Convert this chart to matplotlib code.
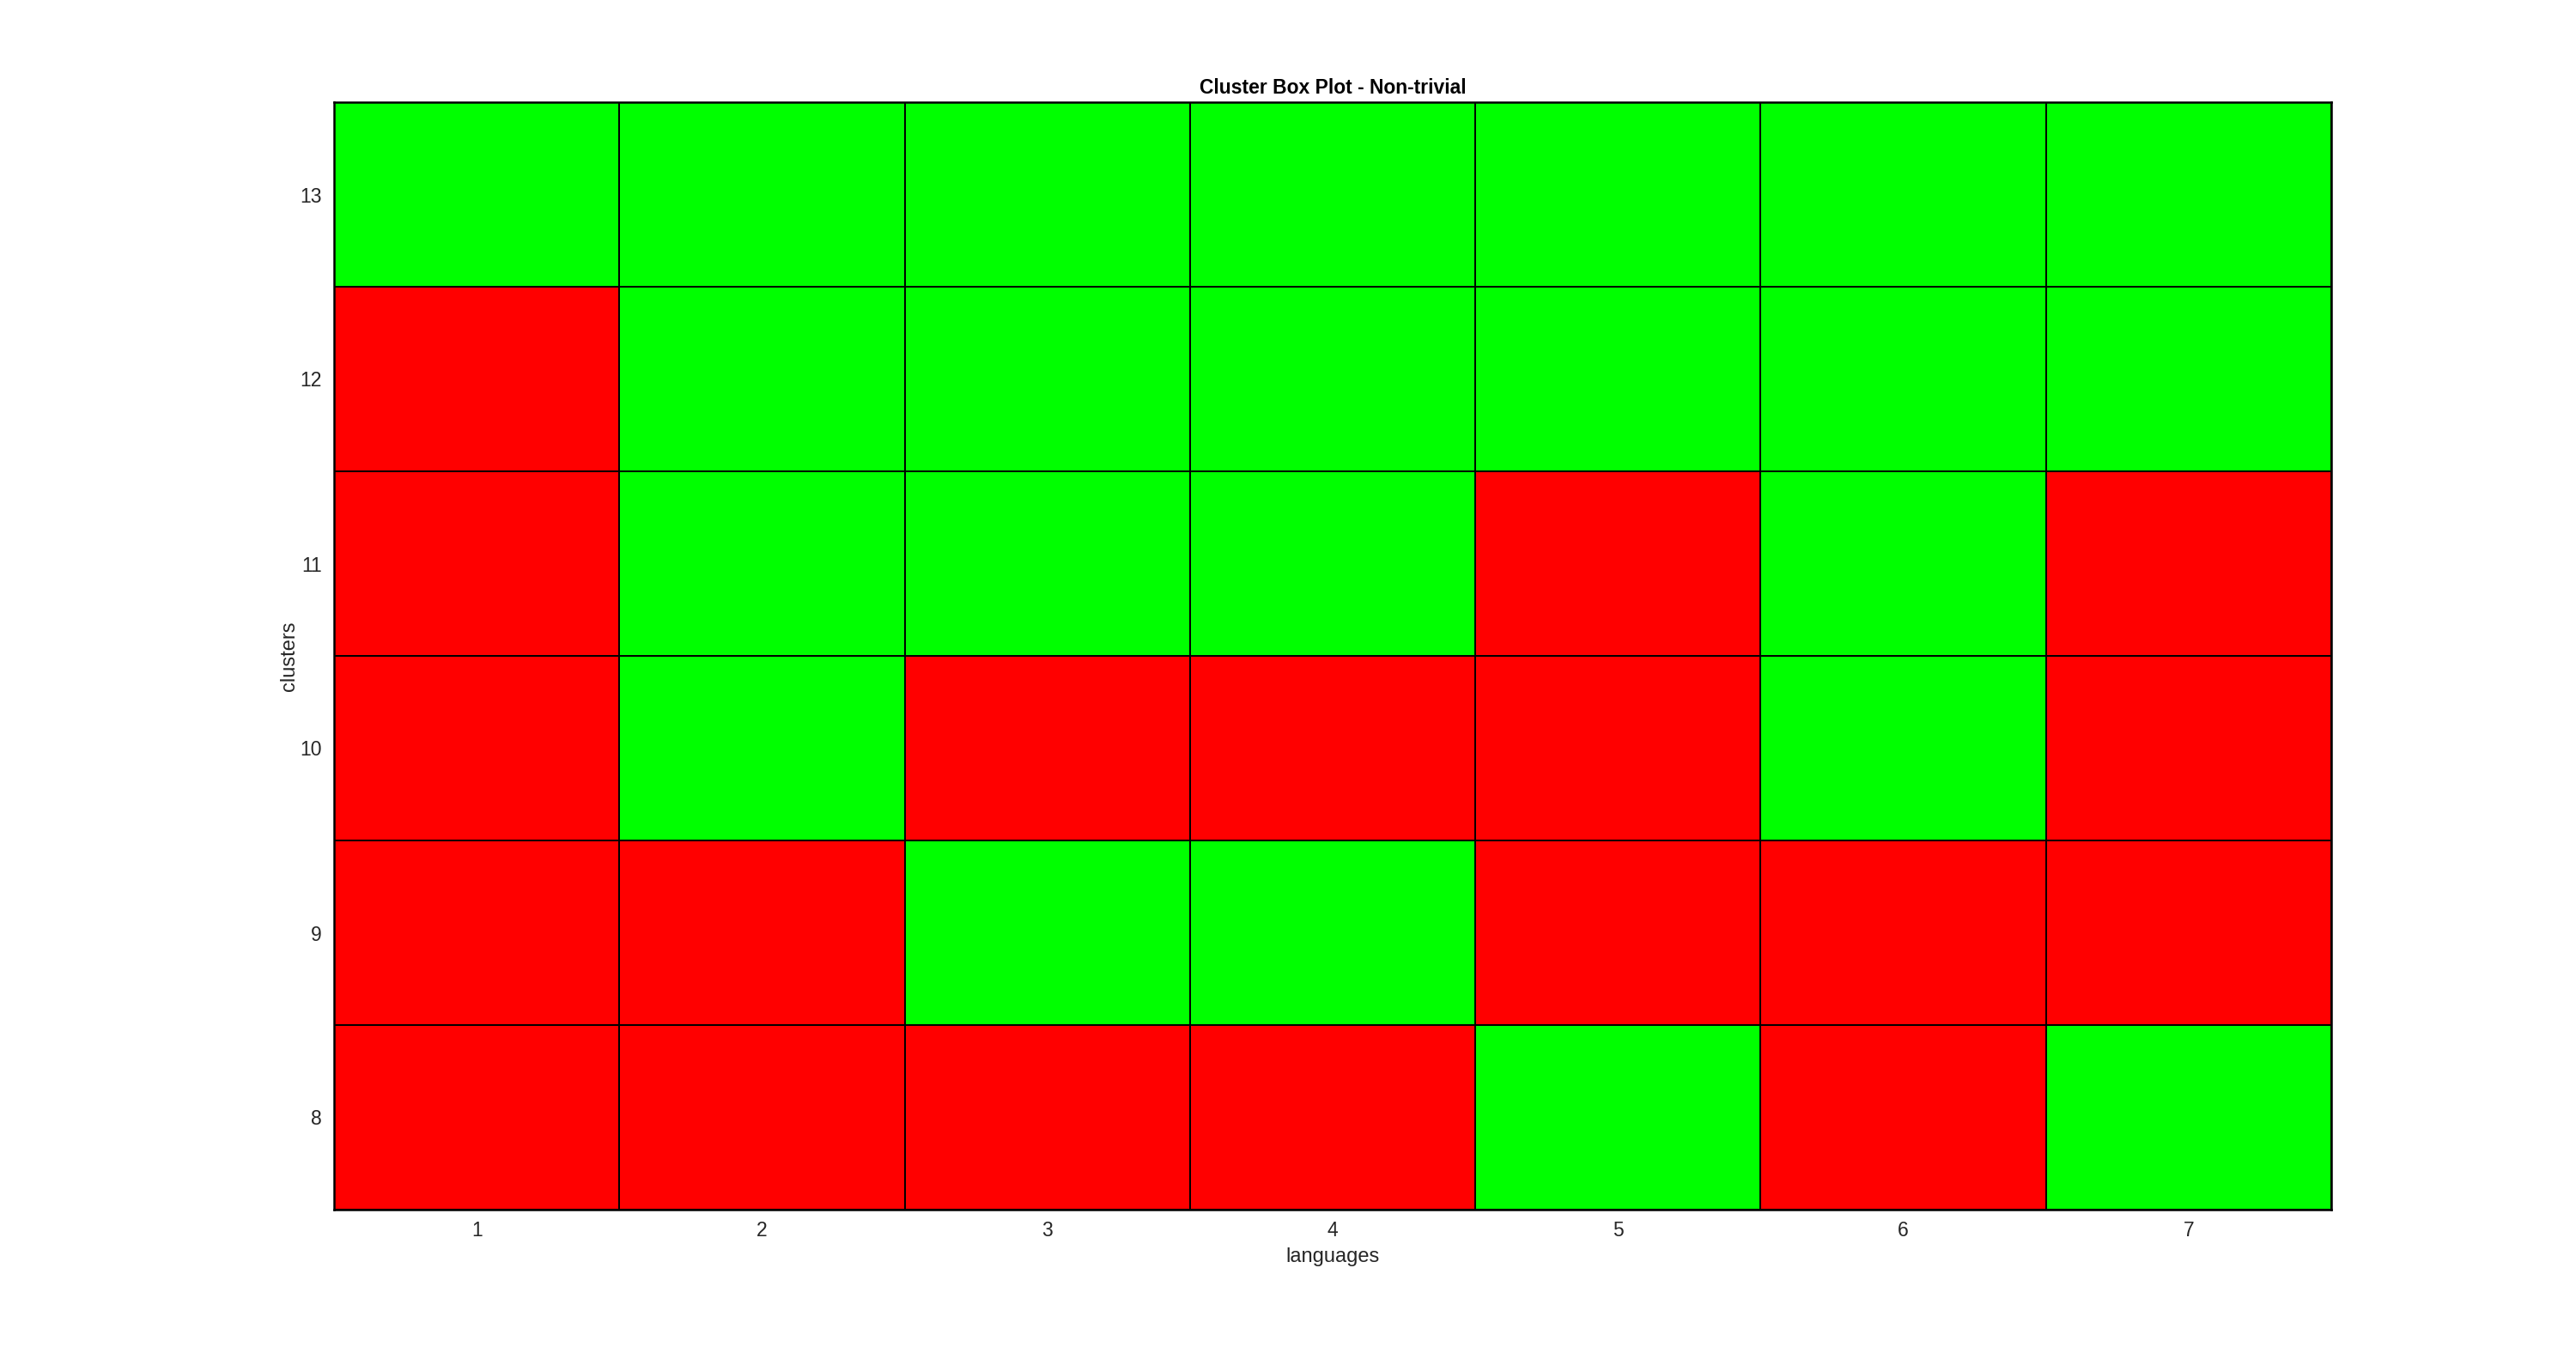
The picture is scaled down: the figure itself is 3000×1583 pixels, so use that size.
import numpy as np
import matplotlib
matplotlib.use("Agg")
import matplotlib.pyplot as plt
from matplotlib.colors import ListedColormap

plt.rcParams['font.family'] = ['Liberation Sans', 'DejaVu Sans']

languages = [1, 2, 3, 4, 5, 6, 7]
clusters = [8, 9, 10, 11, 12, 13]
# 1 = green (pass), 0 = red (fail); rows follow clusters order
status = [
    [0, 0, 0, 0, 1, 0, 1],  # 8
    [0, 0, 1, 1, 0, 0, 0],  # 9
    [0, 1, 0, 0, 0, 1, 0],  # 10
    [0, 1, 1, 1, 0, 1, 0],  # 11
    [0, 1, 1, 1, 1, 1, 1],  # 12
    [1, 1, 1, 1, 1, 1, 1],  # 13
]

fig = plt.figure(figsize=(30, 15.83), dpi=100)
ax = fig.add_axes([389/3000, 1 - 1409/1583, (2715-389)/3000, (1409-119)/1583])

x_edges = np.arange(len(languages) + 1) + 0.5
y_edges = np.arange(len(clusters) + 1) + clusters[0] - 0.5
cmap = ListedColormap(['#FF0000', '#00FF00'])
ax.pcolormesh(x_edges, y_edges, np.array(status), cmap=cmap, vmin=0, vmax=1,
              edgecolors='black', linewidth=1.2)

ax.set_xlim(x_edges[0], x_edges[-1])
ax.set_ylim(y_edges[0], y_edges[-1])
ax.set_xticks(languages)
ax.set_xticklabels([str(v) for v in languages])
ax.set_yticks(clusters)
ax.set_yticklabels([str(v) for v in clusters])
ax.tick_params(axis='x', length=0, labelsize=16.5, colors='#262626', pad=9)
ax.tick_params(axis='y', length=0, labelsize=16.5, colors='#262626', pad=10)
for s in ax.spines.values():
    s.set_linewidth(1.8)
    s.set_color('black')

ax.set_xlabel('languages', fontsize=17, color='#262626', labelpad=6)
ax.set_ylabel('clusters', fontsize=17, color='#262626', labelpad=1)
ax.set_title('Cluster Box Plot - Non-trivial', fontsize=16.5, fontweight='bold', pad=7)

fig.savefig('out.png', dpi=100, facecolor='white')
